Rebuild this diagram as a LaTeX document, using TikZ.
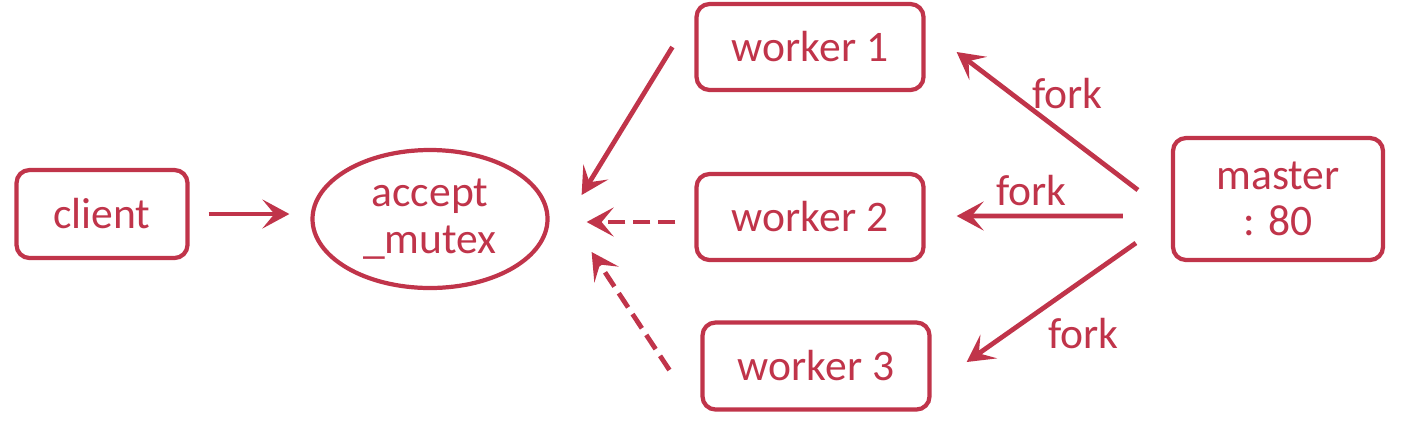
\documentclass[tikz,border=0pt]{standalone}
\usepackage{fontspec}
\setmainfont{Carlito}
\usepackage{tikz}
\usetikzlibrary{positioning, arrows.meta, shapes.geometric, calc}
\definecolor{ngx}{HTML}{C0344A}
\tikzset{
  box/.style     = {rectangle, rounded corners=0.13cm, draw=ngx, line width=1.2pt,
                    text=ngx, inner sep=0pt, align=center,
                    font=\fontsize{12.4}{13.2}\selectfont},
  lock/.style    = {ellipse, draw=ngx, line width=1.2pt, text=ngx, inner sep=0pt,
                    minimum width=2.35cm, minimum height=1.38cm, align=center,
                    font=\fontsize{12.4}{13.2}\selectfont},
  arr/.style     = {-{Stealth[length=2.7mm,width=2.9mm,inset=1.2mm]}, line width=1.35pt,
                    draw=ngx},
  darr/.style    = {arr, dash pattern=on 0.17cm off 0.08cm},
  lbl/.style     = {text=ngx, inner sep=0pt, font=\fontsize{12.4}{13.2}\selectfont},
}
\begin{document}
\begin{tikzpicture}
  \useasboundingbox (0,0) rectangle (14.07,-4.21);

  \node[box, minimum width=1.71cm, minimum height=0.88cm] (cl) at (1.02,-2.14) {client};
  \node[lock] (acc) at (4.30,-2.19) {accept\\\_mutex};

  \node[box, minimum width=2.27cm, minimum height=0.86cm] (w1) at (8.10,-0.47) {worker 1};
  \node[box, minimum width=2.27cm, minimum height=0.86cm] (w2) at (8.10,-2.17) {worker 2};
  \node[box, minimum width=2.27cm, minimum height=0.87cm] (w3) at (8.16,-3.66) {worker 3};

  \node[box, minimum width=2.10cm, minimum height=1.22cm] (ms) at (12.78,-1.99) {master\\: 80};

  % client and workers compete for the lock
  \draw[arr, shorten <=0.19cm, shorten >=0.21cm] (cl.east) -- (cl.east -| acc.west);
  \draw[arr] ([xshift=-0.22cm]w1.west) -- ([xshift=0.32cm, yshift=0.24cm]acc.east);
  \draw[darr] ([xshift=-0.19cm, yshift=-0.05cm]w2.west) -- ([xshift=0.37cm, yshift=-0.03cm]acc.east);
  \draw[darr] ([xshift=-0.31cm, yshift=-0.04cm]w3.west) -- ([xshift=0.42cm, yshift=-0.33cm]acc.east);

  % master forks the workers
  \draw[arr] ([xshift=-0.33cm, yshift=0.09cm]ms.west) -- node[lbl, pos=0.39, yshift=0.43cm]{fork}
        ([xshift=0.31cm, yshift=-0.05cm]w1.east);
  \draw[arr] ([xshift=-0.48cm, yshift=-0.17cm]ms.west) -- node[lbl, pos=0.55, yshift=0.25cm]{fork}
        ([xshift=0.31cm, yshift=0.01cm]w2.east);
  \draw[arr] ([xshift=-0.35cm, yshift=-0.44cm]ms.west) -- node[lbl, pos=0.31, yshift=-0.54cm]{fork}
        ([xshift=0.35cm, yshift=0.04cm]w3.east);

\end{tikzpicture}
\end{document}
